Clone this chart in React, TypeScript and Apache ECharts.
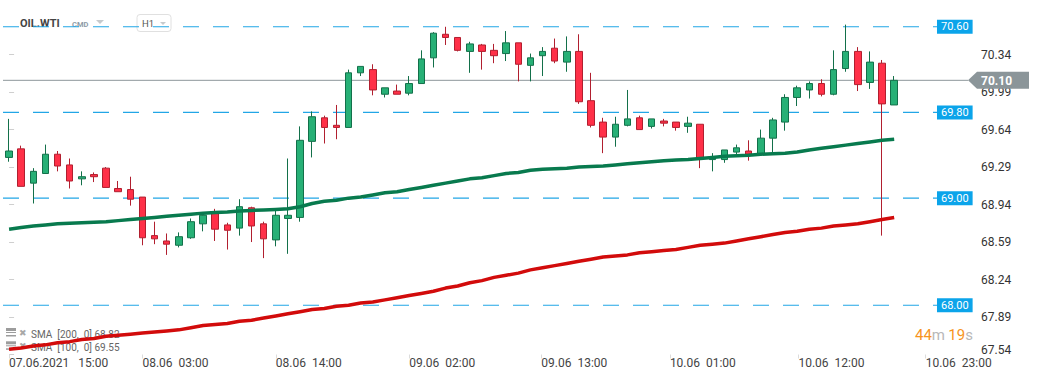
import React, { useEffect, useRef } from 'react';
import * as echarts from 'echarts';

// ---- data ----
const opens = [69.38, 69.46, 69.14, 69.23, 69.41, 69.31, 69.18, 69.22, 69.28, 69.09, 69.08, 69.01, 68.65, 68.60, 68.56, 68.63, 68.76, 68.86, 68.75, 68.72, 68.91, 68.76, 68.61, 68.81, 68.82, 69.53, 69.75, 69.68, 69.66, 70.17, 70.20, 69.97, 70.00, 69.98, 70.07, 70.31, 70.53, 70.50, 70.37, 70.43, 70.38, 70.35, 70.45, 70.24, 70.33, 70.40, 70.27, 70.37, 69.91, 69.71, 69.57, 69.68, 69.75, 69.67, 69.72, 69.71, 69.67, 69.69, 69.36, 69.36, 69.43, 69.44, 69.41, 69.56, 69.71, 69.94, 70.01, 70.07, 69.97, 70.21, 70.37, 70.08, 70.26, 69.87];
const highs = [69.74, 69.49, 69.28, 69.50, 69.44, 69.37, 69.25, 69.24, 69.29, 69.16, 69.20, 69.01, 68.78, 68.67, 68.68, 68.81, 68.86, 68.90, 68.77, 68.99, 68.92, 68.78, 68.88, 69.37, 69.67, 69.81, 69.77, 69.87, 70.20, 70.23, 70.25, 70.03, 70.06, 70.14, 70.38, 70.55, 70.60, 70.50, 70.46, 70.44, 70.44, 70.56, 70.45, 70.35, 70.41, 70.49, 70.51, 70.53, 70.17, 69.75, 69.76, 70.01, 69.77, 69.74, 69.74, 69.71, 69.76, 69.69, 69.42, 69.45, 69.50, 69.54, 69.64, 69.75, 69.97, 70.05, 70.09, 70.11, 70.38, 70.62, 70.41, 70.37, 70.29, 70.14];
const lows = [69.34, 69.11, 68.95, 69.23, 69.25, 69.09, 69.12, 69.15, 69.10, 69.06, 68.93, 68.56, 68.57, 68.47, 68.54, 68.62, 68.69, 68.60, 68.52, 68.65, 68.59, 68.44, 68.55, 68.48, 68.78, 69.38, 69.51, 69.55, 69.66, 70.14, 69.96, 69.94, 69.97, 69.96, 70.07, 70.22, 70.43, 70.37, 70.17, 70.20, 70.26, 70.28, 70.09, 70.09, 70.14, 70.26, 70.18, 69.88, 69.66, 69.42, 69.48, 69.67, 69.64, 69.65, 69.67, 69.63, 69.61, 69.28, 69.25, 69.33, 69.41, 69.35, 69.41, 69.42, 69.63, 69.86, 69.93, 69.95, 69.96, 70.18, 70.00, 70.02, 68.65, 69.87];
const closes = [69.44, 69.11, 69.25, 69.41, 69.30, 69.16, 69.20, 69.20, 69.10, 69.06, 68.99, 68.63, 68.62, 68.57, 68.64, 68.78, 68.84, 68.71, 68.70, 68.92, 68.74, 68.62, 68.84, 68.84, 69.54, 69.76, 69.66, 69.66, 70.17, 70.23, 70.01, 70.03, 69.97, 70.07, 70.30, 70.54, 70.50, 70.38, 70.44, 70.37, 70.33, 70.45, 70.25, 70.31, 70.37, 70.28, 70.37, 69.90, 69.68, 69.57, 69.69, 69.74, 69.64, 69.74, 69.70, 69.66, 69.70, 69.37, 69.38, 69.45, 69.47, 69.41, 69.56, 69.73, 69.94, 70.03, 70.07, 69.97, 70.20, 70.37, 70.06, 70.27, 69.88, 70.10];
const sma100 = [68.71, 68.725, 68.74, 68.75, 68.76, 68.765, 68.77, 68.775, 68.78, 68.79, 68.80, 68.81, 68.82, 68.83, 68.84, 68.85, 68.86, 68.865, 68.87, 68.88, 68.885, 68.89, 68.895, 68.90, 68.92, 68.95, 68.97, 68.98, 69.00, 69.01, 69.03, 69.05, 69.06, 69.08, 69.10, 69.12, 69.14, 69.16, 69.18, 69.19, 69.21, 69.23, 69.24, 69.26, 69.27, 69.275, 69.28, 69.29, 69.295, 69.30, 69.31, 69.32, 69.33, 69.34, 69.35, 69.355, 69.36, 69.37, 69.38, 69.39, 69.395, 69.40, 69.41, 69.415, 69.42, 69.43, 69.45, 69.465, 69.48, 69.495, 69.51, 69.525, 69.54, 69.55];
const sma200 = [67.59, 67.60, 67.62, 67.63, 67.65, 67.66, 67.68, 67.69, 67.71, 67.72, 67.73, 67.74, 67.75, 67.76, 67.77, 67.79, 67.81, 67.82, 67.83, 67.85, 67.86, 67.88, 67.90, 67.92, 67.94, 67.96, 67.97, 67.99, 68.00, 68.02, 68.03, 68.05, 68.07, 68.09, 68.11, 68.13, 68.16, 68.18, 68.21, 68.23, 68.26, 68.28, 68.30, 68.33, 68.35, 68.37, 68.39, 68.41, 68.43, 68.45, 68.46, 68.47, 68.49, 68.50, 68.51, 68.52, 68.54, 68.56, 68.57, 68.58, 68.60, 68.62, 68.64, 68.66, 68.68, 68.69, 68.71, 68.72, 68.74, 68.75, 68.76, 68.78, 68.80, 68.82];
const levelLines = [70.6, 69.8, 69.0, 68.0];
const currentPrice = 70.1;
const yMin = 67.54;
const yMax = 70.68;
const yTickValues = [67.54, 67.89, 68.24, 68.59, 68.94, 69.29, 69.64, 69.99, 70.34];
const slotCount = 80;
const xTickPositions = [0, 11, 22, 33, 43.9, 54.5, 65.1, 75.6];
const xTickLabels = ['07.06.2021   15:00', '08.06  03:00', '08.06  14:00', '09.06  02:00', '09.06  13:00', '10.06  01:00', '10.06  12:00', '10.06  23:00'];
const legendRows = [
  { name: 'SMA', params: '[200,  0]', value: 68.82 },
  { name: 'SMA', params: '[100,  0]', value: 69.55 },
];
const countdown = { minutes: 44, seconds: 19 };
const symbolName = 'OIL.WTI';
const symbolType = 'CMD';
const timeframe = 'H1';

const categories = Array.from({ length: slotCount }, (_, i) => String(i));
const LEVEL_END = 76.53;
const PRICE_END = 79.09;

function buildGraphic(py: number) {
  const els: any[] = [];
  // header
  els.push({ type: 'text', x: 20, y: 23, style: { text: symbolName, font: 'bold 11px Roboto', fill: '#444', verticalAlign: 'middle' } });
  els.push({ type: 'text', x: 72, y: 24, style: { text: symbolType, font: 'bold 7.5px Roboto', fill: '#8d9ba6', verticalAlign: 'middle' } });
  els.push({ type: 'polygon', shape: { points: [[96, 20], [104, 20], [100, 24]] }, style: { fill: '#c6cacd' } });
  els.push({ type: 'rect', shape: { x: 137, y: 14.5, width: 34, height: 17, r: 3 }, style: { fill: 'none', stroke: '#e0e0e0', lineWidth: 1 } });
  els.push({ type: 'text', x: 142, y: 23.5, style: { text: timeframe, font: '9.5px Roboto', fill: '#555', verticalAlign: 'middle' } });
  els.push({ type: 'polygon', shape: { points: [[160, 22], [166, 22], [163, 25]] }, style: { fill: '#c6cacd' } });
  // legend rows
  legendRows.forEach((r, i) => {
    const cy = 334 + i * 13.3;
    els.push({ type: 'rect', z: 1, shape: { x: 6, y: cy - 6, width: 10, height: 3 }, style: { fill: '#9c9c9c' } });
    els.push({ type: 'rect', z: 1, shape: { x: 6, y: cy - 2, width: 10, height: 1 }, style: { fill: '#9c9c9c' } });
    els.push({ type: 'rect', z: 1, shape: { x: 6, y: cy + 1, width: 10, height: 1.5 }, style: { fill: '#9c9c9c' } });
    els.push({ type: 'text', z: 1, x: 19, y: cy - 1, style: { text: '✖', font: '9px "DejaVu Sans"', fill: '#a8a8a8', verticalAlign: 'middle' } });
    els.push({ type: 'text', z: 1, x: 31, y: cy, style: { text: `${r.name}  ${r.params} ${r.value.toFixed(2)}`, font: '10px Roboto', fill: '#666', verticalAlign: 'middle' } });
  });
  // countdown
  els.push({
    type: 'text', x: 915, y: 335,
    style: {
      text: `{o|${countdown.minutes}}{g|m} {o|${countdown.seconds}}{g|s}`,
      verticalAlign: 'middle',
      rich: {
        o: { fill: '#f7941d', font: '15px Roboto' },
        g: { fill: '#b8b8b8', font: '15px Roboto' },
      },
    },
  });
  // current price tag
  els.push({ type: 'polygon', z: 10, shape: { points: [[968, py], [977, py - 8.5], [1029, py - 8.5], [1029, py + 8.5], [977, py + 8.5]] }, style: { fill: '#8b9599' } });
  els.push({ type: 'text', z: 11, x: 981, y: py + 0.5, style: { text: currentPrice.toFixed(2), font: 'bold 12px Roboto', fill: '#fff', verticalAlign: 'middle' } });
  return els;
}

export default function App() {
  const ref = useRef<HTMLDivElement>(null);
  useEffect(() => {
    document.body.style.margin = '0';
    const chart = echarts.init(ref.current!, undefined, { renderer: 'svg' });
    const candleData = opens.map((o, i) => [o, closes[i], lows[i], highs[i]]);
    const gridTop = 354.5 - (yMax - yMin) * 107.1;
    const levelSeries = levelLines.map((lv) => ({
      type: 'line',
      xAxisIndex: 1,
      yAxisIndex: 0,
      silent: true,
      symbol: 'none',
      z: 1,
      data: [[-0.5, lv], [LEVEL_END, lv]],
      lineStyle: { color: '#22a6e6', width: 1.2, type: [16, 14] },
      endLabel: {
        show: true,
        distance: 0,
        formatter: () => lv.toFixed(2),
        backgroundColor: '#0ba4ea',
        color: '#fff',
        fontSize: 11,
        fontFamily: 'Roboto',
        padding: [2, 4, 1, 4],
      },
    }));
    const option: any = {
      animation: false,
      textStyle: { fontFamily: 'Roboto' },
      grid: { left: 3, right: 68, top: gridTop, bottom: 25.5 },
      xAxis: [
        {
          type: 'category',
          data: categories,
          boundaryGap: true,
          axisLine: { show: false },
          axisTick: { show: false },
          axisLabel: { show: false },
          splitLine: { show: false },
        },
        {
          type: 'value',
          min: -0.5,
          max: slotCount - 0.5,
          position: 'bottom',
          axisLine: { show: false },
          splitLine: { show: false },
          axisTick: { show: true, customValues: xTickPositions, length: 4, lineStyle: { color: '#dcdcdc' } },
          axisLabel: {
            show: true,
            customValues: xTickPositions,
            align: 'left',
            margin: 2,
            color: '#444',
            fontSize: 12,
            fontFamily: 'Roboto',
            formatter: (v: number) => {
              let best = 0;
              xTickPositions.forEach((p, i) => {
                if (Math.abs(p - v) < Math.abs(xTickPositions[best] - v)) best = i;
              });
              return xTickLabels[best];
            },
          },
        },
      ],
      yAxis: {
        type: 'value',
        position: 'right',
        min: yMin,
        max: yMax,
        splitLine: { show: false },
        axisLine: { show: false },
        axisTick: { show: true, customValues: yTickValues, length: 5, lineStyle: { color: '#cfcfcf' } },
        axisLabel: {
          customValues: yTickValues,
          margin: 8,
          color: '#333',
          fontSize: 12,
          fontFamily: 'Roboto',
          formatter: (v: number) => (Math.abs(v - yMin) < 1e-6 ? `{low|${v.toFixed(2)}}` : v.toFixed(2)),
          rich: { low: { color: '#333', fontSize: 12, fontFamily: 'Roboto', padding: [0, 0, 9, 0] } },
        },
      },
      series: [
        ...levelSeries,
        {
          type: 'line',
          xAxisIndex: 1,
          yAxisIndex: 0,
          silent: true,
          symbol: 'none',
          z: 1,
          data: [[-0.5, currentPrice], [PRICE_END, currentPrice]],
          lineStyle: { color: '#8e979b', width: 1 },
        },
        {
          type: 'candlestick',
          xAxisIndex: 0,
          yAxisIndex: 0,
          data: candleData,
          barWidth: 7,
          z: 3,
          itemStyle: {
            color: '#27b076',
            color0: '#ff3048',
            borderColor: '#13704a',
            borderColor0: '#b11f2f',
            borderWidth: 1,
          },
        },
        {
          type: 'line',
          xAxisIndex: 0,
          yAxisIndex: 0,
          data: sma100,
          symbol: 'none',
          z: 4,
          lineStyle: { color: '#087a4e', width: 3.5 },
        },
        {
          type: 'line',
          xAxisIndex: 0,
          yAxisIndex: 0,
          data: sma200,
          symbol: 'none',
          z: 4,
          lineStyle: { color: '#d20b0b', width: 3.5 },
        },
      ],
    };
    chart.setOption(option);
    const py = chart.convertToPixel({ yAxisIndex: 0 }, currentPrice) as number;
    chart.setOption({ graphic: buildGraphic(py) });
    return () => chart.dispose();
  }, []);
  return <div ref={ref} style={{ width: 1041, height: 380 }} />;
}
